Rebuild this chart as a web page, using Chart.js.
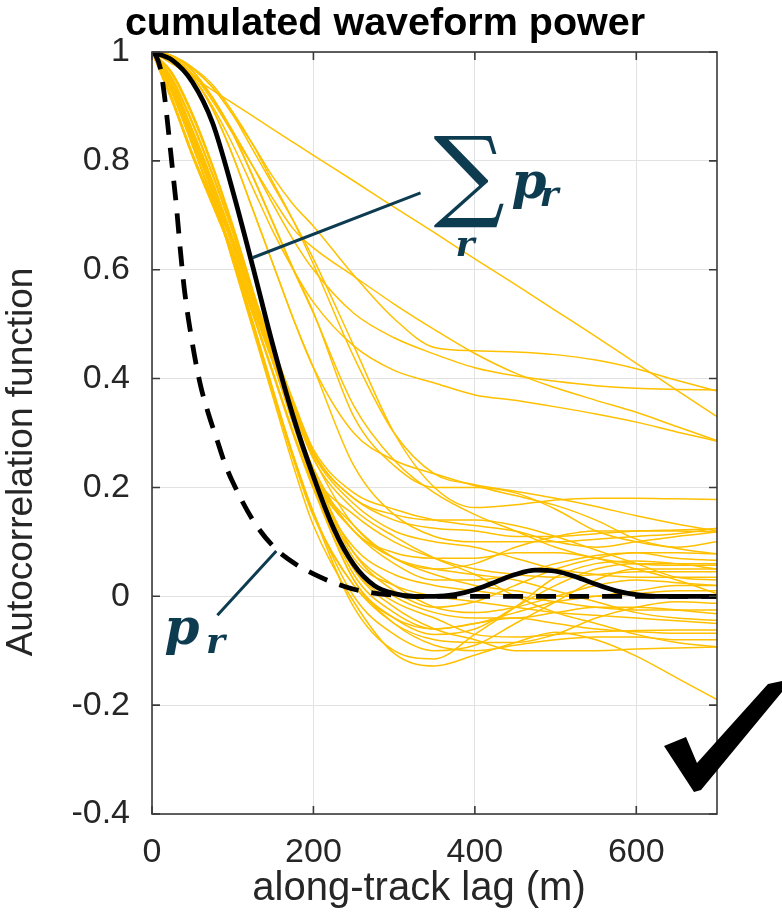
<!DOCTYPE html>
<html>
<head>
<meta charset="utf-8">
<script src="https://cdn.jsdelivr.net/npm/chart.js@4.4.1/dist/chart.umd.min.js"></script>
<style>
  html, body { margin: 0; padding: 0; background: #fff; }
  #wrap { width: 782px; height: 918px; }
</style>
</head>
<body>
<div id="wrap"><canvas id="plot" width="782" height="918"></canvas></div>
<script>
// lag axis (m) shared by the yellow per-record curves
let lags = [0, 25, 50, 75, 100, 125, 150, 175, 200, 250, 300, 350, 400, 450, 500, 550, 600, 650, 700];

// yellow curves (one per record r)
// slow ones, fanning out to the right of the black curve
let aStraight = [1, 0.978, 0.955, 0.93, 0.906, 0.882, 0.858, 0.834, 0.81, 0.763, 0.715, 0.668, 0.62, 0.573, 0.525, 0.477, 0.428, 0.379, 0.33];
let bFlat = [1, 0.992, 0.97, 0.935, 0.885, 0.83, 0.77, 0.72, 0.68, 0.59, 0.51, 0.457, 0.451, 0.449, 0.444, 0.434, 0.418, 0.397, 0.377];
let cLine = [1, 0.99, 0.96, 0.915, 0.855, 0.79, 0.72, 0.655, 0.6, 0.52, 0.475, 0.445, 0.42, 0.405, 0.395, 0.387, 0.382, 0.38, 0.379];
let dLine = [1, 0.99, 0.96, 0.91, 0.85, 0.79, 0.73, 0.675, 0.64, 0.588, 0.537, 0.49, 0.446, 0.41, 0.383, 0.36, 0.338, 0.312, 0.286];
let eLine = [1, 0.99, 0.955, 0.9, 0.83, 0.75, 0.67, 0.6, 0.54, 0.46, 0.415, 0.392, 0.37, 0.36, 0.348, 0.335, 0.32, 0.302, 0.285];
let fLine = [1, 0.993, 0.972, 0.94, 0.89, 0.83, 0.76, 0.69, 0.61, 0.44, 0.3, 0.225, 0.205, 0.193, 0.18, 0.165, 0.148, 0.133, 0.12];
let gLine = [1, 0.993, 0.97, 0.935, 0.885, 0.82, 0.755, 0.69, 0.62, 0.46, 0.3, 0.2, 0.163, 0.168, 0.177, 0.18, 0.18, 0.179, 0.178];
let b09 = [1, 0.99, 0.955, 0.895, 0.81, 0.71, 0.61, 0.51, 0.42, 0.24, 0.15, 0.11, 0.1, 0.1, 0.1, 0.105, 0.11, 0.115, 0.125];
let b13 = [1, 0.993, 0.965, 0.915, 0.85, 0.77, 0.685, 0.6, 0.52, 0.35, 0.25, 0.19, 0.15, 0.12, 0.09, 0.07, 0.06, 0.057, 0.057];
let b26 = [1, 0.993, 0.966, 0.917, 0.852, 0.772, 0.687, 0.602, 0.522, 0.33, 0.24, 0.2, 0.2, 0.19, 0.16, 0.12, 0.1, 0.09, 0.1];
let b28 = [1, 0.99, 0.955, 0.895, 0.81, 0.71, 0.61, 0.51, 0.42, 0.3, 0.25, 0.225, 0.203, 0.185, 0.167, 0.14, 0.105, 0.088, 0.078];
// fast ones: the dense band left of the black curve
let hLow = [1, 0.94, 0.85, 0.74, 0.615, 0.49, 0.365, 0.24, 0.13, -0.01, -0.105, -0.128, -0.108, -0.085, -0.066, -0.08, -0.11, -0.15, -0.19];
let b01 = [1, 0.94, 0.855, 0.76, 0.655, 0.545, 0.43, 0.315, 0.21, 0.04, -0.03, -0.06, -0.05, -0.03, -0.01, 0, 0.01, 0.02, 0.02];
let b02 = [1, 0.925, 0.83, 0.73, 0.625, 0.52, 0.41, 0.3, 0.2, 0.05, -0.01, -0.04, -0.07, -0.075, -0.07, -0.065, -0.063, -0.062, -0.062];
let b03 = [1, 0.95, 0.87, 0.775, 0.67, 0.555, 0.44, 0.33, 0.23, 0.08, 0.01, -0.02, -0.01, 0.02, 0.05, 0.07, 0.08, 0.08, 0.078];
let b04 = [1, 0.93, 0.84, 0.745, 0.645, 0.545, 0.445, 0.345, 0.255, 0.13, 0.07, 0.05, 0.06, 0.09, 0.11, 0.12, 0.12, 0.12, 0.118];
let b05 = [1, 0.94, 0.85, 0.74, 0.62, 0.5, 0.375, 0.255, 0.15, 0.02, -0.05, -0.08, -0.085, -0.085, -0.07, -0.04, -0.02, -0.01, -0.013];
let b06 = [1, 0.945, 0.855, 0.745, 0.625, 0.505, 0.38, 0.26, 0.155, 0, -0.07, -0.1, -0.09, -0.05, -0.01, 0.03, 0.05, 0.05, 0.05];
let b07 = [1, 0.91, 0.81, 0.72, 0.63, 0.53, 0.43, 0.32, 0.22, 0.12, 0.07, 0.05, 0.04, 0.03, 0.01, -0.01, -0.03, -0.04, -0.044];
let b08 = [1, 0.932, 0.843, 0.748, 0.648, 0.548, 0.448, 0.35, 0.26, 0.17, 0.12, 0.1, 0.09, 0.07, 0.05, 0.04, 0.035, 0.035, 0.035];
let b10 = [1, 0.928, 0.837, 0.742, 0.642, 0.542, 0.442, 0.342, 0.252, 0.16, 0.11, 0.07, 0.04, 0, -0.03, -0.05, -0.07, -0.085, -0.093];
let b11 = [1, 0.96, 0.885, 0.79, 0.68, 0.56, 0.44, 0.32, 0.21, 0.06, 0, -0.03, -0.04, -0.04, -0.03, -0.02, -0.02, -0.025, -0.032];
let b12 = [1, 0.912, 0.813, 0.723, 0.633, 0.533, 0.433, 0.325, 0.225, 0.12, 0.06, 0.03, 0.03, 0.04, 0.06, 0.075, 0.08, 0.07, 0.066];
let b14 = [1, 0.935, 0.847, 0.752, 0.652, 0.552, 0.452, 0.355, 0.265, 0.18, 0.15, 0.14, 0.14, 0.13, 0.11, 0.085, 0.06, 0.035, 0.03];
let b15 = [1, 0.927, 0.832, 0.732, 0.628, 0.522, 0.412, 0.302, 0.202, 0.03, -0.04, -0.07, -0.06, -0.02, 0.02, 0.05, 0.06, 0.06, 0.06];
let b16 = [1, 0.952, 0.872, 0.777, 0.672, 0.557, 0.442, 0.332, 0.232, 0.07, 0.02, 0, -0.01, -0.02, -0.03, -0.035, -0.04, -0.045, -0.05];
let b17 = [1, 0.915, 0.815, 0.725, 0.635, 0.535, 0.435, 0.325, 0.225, 0.13, 0.07, 0.04, 0.02, 0.01, 0, 0, 0.005, 0.01, 0.01];
let b18 = [1, 0.958, 0.882, 0.787, 0.677, 0.557, 0.437, 0.318, 0.208, 0.08, 0.02, -0.02, -0.03, -0.02, 0, 0.02, 0.03, 0.025, 0.02];
let b19 = [1, 0.923, 0.828, 0.727, 0.622, 0.517, 0.407, 0.297, 0.197, 0.03, -0.05, -0.09, -0.1, -0.09, -0.08, -0.075, -0.075, -0.08, -0.08];
let b20 = [1, 0.938, 0.85, 0.757, 0.658, 0.558, 0.458, 0.36, 0.27, 0.19, 0.16, 0.14, 0.13, 0.12, 0.1, 0.09, 0.1, 0.11, 0.118];
let b21 = [1, 0.908, 0.808, 0.718, 0.628, 0.528, 0.428, 0.322, 0.225, 0.15, 0.1, 0.07, 0.05, 0.04, 0.035, 0.04, 0.045, 0.045, 0.045];
let b22 = [1, 0.942, 0.858, 0.763, 0.658, 0.548, 0.433, 0.318, 0.213, 0.09, 0.04, 0.02, 0.01, 0, -0.01, -0.02, -0.025, -0.025, -0.025];
let b23 = [1, 0.938, 0.847, 0.737, 0.617, 0.497, 0.372, 0.252, 0.147, 0.02, -0.04, -0.06, -0.05, -0.04, -0.05, -0.06, -0.065, -0.068, -0.068];
let b24 = [1, 0.948, 0.868, 0.773, 0.668, 0.553, 0.438, 0.328, 0.235, 0.12, 0.08, 0.07, 0.07, 0.08, 0.08, 0.07, 0.05, 0.03, 0.005];
let b25 = [1, 0.933, 0.843, 0.748, 0.648, 0.548, 0.448, 0.352, 0.262, 0.18, 0.14, 0.125, 0.12, 0.11, 0.11, 0.115, 0.12, 0.122, 0.124];
let b27 = [1, 0.962, 0.888, 0.793, 0.683, 0.563, 0.443, 0.323, 0.213, 0.05, -0.02, -0.06, -0.08, -0.1, -0.1, -0.1, -0.097, -0.095, -0.093];
let b29 = [1, 0.942, 0.852, 0.742, 0.622, 0.502, 0.377, 0.257, 0.152, -0.02, -0.1, -0.115, -0.07, -0.02, 0.035, 0.06, 0.065, 0.06, 0.05];

let yellowSeries = [aStraight, bFlat, cLine, dLine, eLine, fLine, gLine, b09, b13, b26, b28,
  hLow, b01, b02, b03, b04, b05, b06, b07, b08, b10, b11, b12, b14, b15,
  b16, b17, b18, b19, b20, b21, b22, b23, b24, b25, b27, b29];

// black solid: sum over records
let sumLags = [0, 25, 50, 75, 100, 125, 150, 175, 200, 225, 250, 275, 300, 325, 350, 375, 400, 425, 450, 475, 500, 525, 550, 575, 600, 625, 650, 675, 700];
let sumAcf = [1, 0.985, 0.945, 0.87, 0.745, 0.605, 0.46, 0.33, 0.22, 0.125, 0.058, 0.02, 0.005, 0, 0, 0.003, 0.012, 0.026, 0.04, 0.048, 0.046, 0.036, 0.022, 0.01, 0.003, 0, 0, 0, 0];

// black dashed: single record p_r
let prLags = [0, 5, 10, 15, 20, 25, 30, 35, 40, 50, 60, 70, 80, 90, 100, 125, 150, 175, 200, 225, 250, 275, 300, 325, 350, 400, 500, 600, 700];
let prAcf = [1, 0.993, 0.972, 0.925, 0.86, 0.79, 0.72, 0.638, 0.565, 0.465, 0.388, 0.335, 0.29, 0.245, 0.21, 0.14, 0.092, 0.062, 0.041, 0.025, 0.013, 0.006, 0.002, 0, 0, 0, 0, 0, 0];

// ticks
let xTicks = [0, 200, 400, 600];
let yTicks = [-0.4, -0.2, 0, 0.2, 0.4, 0.6, 0.8, 1];

let textFont = "'Liberation Sans', Arial, sans-serif";
let mathFont = "'DejaVu Serif', 'DejaVu Sans', serif";
let navy = "#0d3b50";
let axisText = "#262626";

let toPoints = (xs, ys) => xs.map((x, i) => ({ x: x, y: ys[i] }));

let datasets = [
  {
    label: "sum p_r",
    data: toPoints(sumLags, sumAcf),
    borderColor: "#000",
    borderWidth: 4.8,
    pointRadius: 0,
    cubicInterpolationMode: "monotone",
  },
  {
    label: "p_r",
    data: toPoints(prLags, prAcf),
    borderColor: "#000",
    borderWidth: 4.8,
    borderDash: [20, 13],
    pointRadius: 0,
    cubicInterpolationMode: "monotone",
  },
];
yellowSeries.forEach((ys, i) => {
  datasets.push({
    label: "record " + (i + 1),
    data: toPoints(lags, ys),
    borderColor: "rgb(255,192,0)",
    borderWidth: 1.5,
    pointRadius: 0,
    cubicInterpolationMode: "monotone",
  });
});

// box with inward ticks on all four sides (MATLAB style)
let framePlugin = {
  id: "frame",
  afterDatasetsDraw(chart) {
    let ctx = chart.ctx;
    let a = chart.chartArea;
    let sx = chart.scales.x;
    let sy = chart.scales.y;
    ctx.save();
    ctx.strokeStyle = "#3a3a3a";
    ctx.lineWidth = 1.6;
    ctx.strokeRect(a.left, a.top, a.right - a.left, a.bottom - a.top);
    ctx.beginPath();
    xTicks.forEach((v) => {
      let px = sx.getPixelForValue(v);
      ctx.moveTo(px, a.bottom);
      ctx.lineTo(px, a.bottom - 8);
      ctx.moveTo(px, a.top);
      ctx.lineTo(px, a.top + 8);
    });
    yTicks.forEach((v) => {
      let py = sy.getPixelForValue(v);
      ctx.moveTo(a.left, py);
      ctx.lineTo(a.left + 8, py);
      ctx.moveTo(a.right, py);
      ctx.lineTo(a.right - 8, py);
    });
    ctx.stroke();
    ctx.restore();
  },
};

// axis titles (placed off-centre like the reference), math labels, leaders, check mark
let notesPlugin = {
  id: "notes",
  afterDraw(chart) {
    let ctx = chart.ctx;
    let a = chart.chartArea;
    let sx = chart.scales.x;
    let sy = chart.scales.y;
    let P = (x, y) => [sx.getPixelForValue(x), sy.getPixelForValue(y)];
    ctx.save();

    // axis titles
    ctx.fillStyle = axisText;
    ctx.font = "40px " + textFont;
    ctx.textAlign = "center";
    ctx.textBaseline = "middle";
    ctx.fillText("along-track lag (m)", a.left + 267, a.bottom + 75);
    ctx.save();
    ctx.translate(a.left - 130, a.top + 410);
    ctx.rotate(-Math.PI / 2);
    ctx.font = "37px " + textFont;
    ctx.fillText("Autocorrelation function", 0, 0);
    ctx.restore();

    // leader lines
    ctx.strokeStyle = navy;
    ctx.lineWidth = 3;
    ctx.beginPath();
    let s0 = P(124.5, 0.622), s1 = P(332.7, 0.741);
    ctx.moveTo(s0[0], s0[1]);
    ctx.lineTo(s1[0], s1[1]);
    let p0 = P(81, -0.035), p1 = P(154, 0.083);
    ctx.moveTo(p0[0], p0[1]);
    ctx.lineTo(p1[0], p1[1]);
    ctx.stroke();

    // sum symbol with subscript
    ctx.fillStyle = navy;
    ctx.textBaseline = "alphabetic";
    ctx.textAlign = "center";
    let sg = P(393, 0.714);
    ctx.font = "100px " + mathFont;
    ctx.fillText("\u2211", sg[0], sg[1]);
    ctx.textAlign = "left";
    let sp = P(445.5, 0.732);
    ctx.font = "italic bold 50px " + mathFont;
    ctx.fillText("p", sp[0], sp[1]);
    let sr = P(480, 0.717);
    ctx.font = "italic bold 36px " + mathFont;
    ctx.fillText("r", sr[0], sr[1]);
    let su = P(376, 0.626);
    ctx.fillText("r", su[0], su[1]);

    // p_r next to the dashed curve
    let lp = P(15.5, -0.088);
    ctx.font = "italic bold 50px " + mathFont;
    ctx.fillText("p", lp[0], lp[1]);
    let lr = P(67, -0.104);
    ctx.font = "italic bold 36px " + mathFont;
    ctx.fillText("r", lr[0], lr[1]);

    // check mark
    ctx.fillStyle = "#000";
    ctx.beginPath();
    ctx.moveTo(664, 746);
    ctx.lineTo(686, 737);
    ctx.lineTo(697, 763);
    ctx.lineTo(768, 684);
    ctx.lineTo(782, 681);
    ctx.lineTo(782, 692);
    ctx.lineTo(701, 790);
    ctx.lineTo(694, 792);
    ctx.closePath();
    ctx.fill();

    ctx.restore();
  },
};

let config = {
  type: "line",
  data: { datasets: datasets },
  options: {
    responsive: false,
    animation: false,
    layout: { padding: { left: 0, right: 12, top: 0, bottom: 0 } },
    plugins: {
      legend: { display: false },
      tooltip: { enabled: false },
      title: {
        display: true,
        text: "cumulated waveform power",
        color: "#000",
        font: { family: textFont, size: 39.5, weight: "bold" },
        padding: { top: 0, bottom: 4.6 },
      },
    },
    scales: {
      x: {
        type: "linear",
        min: 0,
        max: 700,
        afterBuildTicks: (s) => { s.ticks = xTicks.map((v) => ({ value: v })); },
        afterFit: (s) => { s.height = 104; },
        border: { display: false },
        grid: { color: "#e2e2e2", lineWidth: 1, drawTicks: false },
        ticks: {
          color: axisText,
          font: { family: textFont, size: 34 },
          padding: 18,
          maxRotation: 0,
          callback: (v) => String(v),
        },
      },
      y: {
        type: "linear",
        min: -0.4,
        max: 1,
        afterBuildTicks: (s) => { s.ticks = yTicks.map((v) => ({ value: v })); },
        afterFit: (s) => { s.width = 152; },
        border: { display: false },
        grid: { color: "#e2e2e2", lineWidth: 1, drawTicks: false },
        ticks: {
          color: axisText,
          font: { family: textFont, size: 34 },
          padding: 22,
          callback: (v) => String(v),
        },
      },
      // empty right-hand strip so the figure title sits where the reference has it
      yr: {
        position: "right",
        display: true,
        border: { display: false },
        grid: { display: false, drawTicks: false },
        ticks: { display: false },
        afterFit: (s) => { s.width = 53; },
      },
    },
  },
  plugins: [framePlugin, notesPlugin],
};

new Chart(document.getElementById("plot"), config);
</script>
</body>
</html>
